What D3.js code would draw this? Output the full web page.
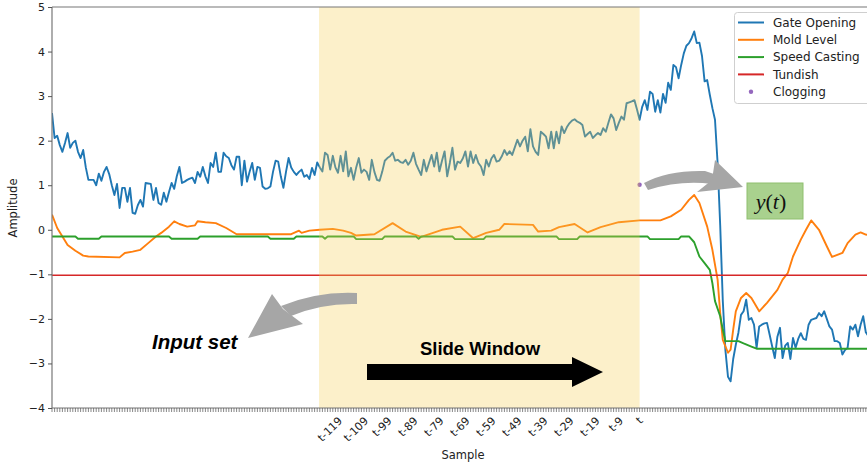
<!DOCTYPE html>
<html><head><meta charset="utf-8">
<script src="https://cdn.jsdelivr.net/npm/d3@7"></script>
<style>body{margin:0;background:#fff}svg{display:block}</style>
</head><body>
<script>
// ---------- data ----------
const seriesNames = ["Gate Opening", "Mold Level", "Speed Casting", "Tundish", "Clogging"];
const seriesColors = ["#1f77b4", "#ff7f0e", "#2ca02c", "#d62728", "#9467bd"];

// gate opening, one value per sample (sample 0 .. 314)
const gateValues = [
  2.62, 2.06, 2.11, 1.9, 1.75, 1.95, 2.17, 1.84, 1.95, 2.0,
  1.75, 1.61, 1.79, 1.4, 1.12, 1.12, 1.12, 1.0, 1.26, 1.1,
  1.3, 1.41, 1.25, 1.0, 0.78, 1.03, 0.49, 0.94, 0.94, 0.63,
  0.94, 0.38, 0.36, 0.55, 0.67, 0.52, 1.05, 1.04, 1.03, 0.67,
  0.94, 0.6, 0.56, 0.83, 0.63, 0.85, 1.05, 0.92, 1.2, 1.41,
  1.05, 1.08, 1.12, 1.15, 1.17, 1.05, 1.3, 1.19, 1.41, 1.2,
  1.05, 1.5, 1.41, 1.73, 1.3, 1.3, 1.73, 1.65, 1.61, 1.45,
  1.35, 1.64, 1.64, 1.0, 1.55, 1.08, 1.3, 1.5, 1.12, 1.41,
  1.39, 0.97, 0.92, 0.93, 0.97, 1.3, 1.55, 1.53, 1.2, 0.94,
  1.3, 1.61, 1.4, 1.3, 1.23, 1.3, 1.35, 1.19, 1.23, 1.14,
  1.39, 1.23, 1.51, 1.4, 1.31, 1.73, 1.68, 1.35, 1.66, 1.4,
  1.28, 1.66, 1.31, 1.76, 1.2, 1.39, 1.12, 1.4, 1.61, 1.28,
  1.35, 1.3, 1.12, 1.57, 1.3, 1.12, 1.1, 1.3, 1.55, 1.61,
  1.65, 1.73, 1.55, 1.57, 1.52, 1.5, 1.57, 1.46, 1.55, 1.73,
  1.48, 1.35, 1.23, 1.57, 1.31, 1.5, 1.68, 1.42, 1.73, 1.31,
  1.55, 1.76, 1.2, 1.5, 1.84, 1.35, 1.53, 1.5, 1.6, 1.76,
  1.42, 1.76, 1.5, 1.68, 1.5, 1.42, 1.23, 1.57, 1.42, 1.6,
  1.68, 1.53, 1.55, 1.65, 1.79, 1.68, 1.76, 1.68, 1.85, 2.02,
  1.87, 2.0, 2.09, 1.76, 2.26, 1.87, 1.75, 1.68, 2.2, 2.15,
  2.09, 1.83, 2.2, 1.83, 2.2, 1.94, 2.32, 2.17, 2.3, 2.39,
  2.45, 2.48, 2.43, 2.4, 2.35, 2.09, 2.15, 2.2, 2.06, 2.12,
  2.17, 2.13, 2.28, 2.2, 2.4, 2.59, 2.5, 2.24, 2.4, 2.54,
  2.47, 2.84, 2.86, 2.88, 2.91, 2.7, 2.47, 2.76, 2.91, 2.69,
  3.1, 3.05, 2.65, 2.91, 2.63, 3.05, 2.85, 3.3, 3.14, 3.7,
  3.65, 3.4, 3.7, 3.96, 4.13, 4.19, 4.3, 4.45, 4.19, 4.2,
  3.9, 3.33, 3.36, 3.03, 2.73, 2.47, 1.5, 0.1, -1.6, -2.7,
  -3.3, -3.4, -2.9, -2.58, -2.31, -1.91, -1.83, -1.57, -2.02, -1.98,
  -2.13, -2.65, -2.17, -2.13, -2.1, -2.09, -2.35, -2.62, -2.88, -2.4,
  -2.2, -2.88, -2.6, -2.54, -2.9, -2.43, -2.65, -2.45, -2.32, -2.45,
  -2.47, -2.13, -2.02, -2.0, -1.98, -1.87, -1.94, -1.83, -2.0, -2.17,
  -2.24, -2.5, -2.5, -2.54, -2.8, -2.7, -2.65, -2.17, -2.24, -2.13,
  -2.39, -2.13, -1.94, -2.3, -2.39
];

const moldSamples = [0, 2, 4, 6, 9, 12, 14, 26, 28, 31, 34, 37, 40, 42, 45, 47, 49, 52, 55, 56,
  59, 63, 67, 71, 92, 95, 96, 99, 103, 108, 112, 115, 117, 124, 131, 136, 142, 150, 157, 162,
  167, 172, 174, 185, 187, 192, 195, 201, 206, 211, 218, 226, 234, 238, 242, 245, 247, 249, 252, 254,
  256, 257, 258, 260, 261, 262, 263, 265, 267, 269, 272, 275, 279, 281, 283, 285, 288, 290, 292, 295,
  298, 300, 304, 306, 309, 311, 313, 316];
const moldValues = [0.34, 0.04, -0.15, -0.34, -0.47, -0.58, -0.6, -0.62, -0.52, -0.49, -0.45, -0.3, -0.15, -0.07, 0.07, 0.19, 0.13, 0.07, 0.1, 0.19,
  0.17, 0.15, 0.04, -0.1, -0.1, -0.02, -0.07, -0.02, 0, 0.02, -0.02, -0.07, -0.13, -0.1, 0.15, -0.04, -0.16, 0, 0.07, -0.19,
  -0.07, 0, 0.13, 0.11, -0.04, -0.02, 0.06, 0.13, -0.06, 0.06, 0.17, 0.21, 0.21, 0.3, 0.45, 0.67, 0.78, 0.6, 0.07, -0.45,
  -1.12, -1.87, -2.47, -2.76, -2.69, -2.24, -1.83, -1.53, -1.42, -1.53, -1.83, -1.64, -1.35, -1.12, -0.97, -0.6, -0.22, 0, 0.21, 0,
  -0.37, -0.61, -0.52, -0.3, -0.11, -0.06, -0.11, -0.13];

const speedSamples = [0, 9, 10, 18, 19, 45, 46, 56, 57, 83, 84, 93, 94, 104, 105, 106, 116, 117, 127, 128,
  140, 141, 142, 154, 155, 166, 167, 194, 195, 202, 203, 229, 230, 241, 242, 245, 247, 249, 251, 253,
  254, 255, 257, 258, 259, 264, 266, 269, 271, 316];
const speedValues = [-0.15, -0.15, -0.2, -0.2, -0.15, -0.15, -0.2, -0.2, -0.15, -0.15, -0.2, -0.2, -0.15, -0.15, -0.2, -0.15, -0.15, -0.21, -0.21, -0.15,
  -0.15, -0.2, -0.15, -0.15, -0.21, -0.21, -0.15, -0.15, -0.21, -0.21, -0.15, -0.15, -0.21, -0.21, -0.15, -0.15, -0.28, -0.6, -0.75, -0.9,
  -1.2, -1.6, -1.94, -2.24, -2.5, -2.5, -2.55, -2.62, -2.67, -2.67];

const tundishSamples = [0, 316];
const tundishValues = [-1.02, -1.02];

const cloggingSamples = [226];
const cloggingValues = [1.01];

const windowStart = 102.7, windowEnd = 226;
const tickSamples = [107, 117, 127, 137, 147, 157, 167, 177, 187, 197, 207, 217, 226];
const tickLabels = ["t-119", "t-109", "t-99", "t-89", "t-79", "t-69", "t-59", "t-49", "t-39", "t-29", "t-19", "t-9", "t"];
const yTicks = [-4, -3, -2, -1, 0, 1, 2, 3, 4, 5];
const sampleCount = 316;

// ---------- layout ----------
const W = 867, H = 468;
const L = 52, T = 7, B = 408;
const x = d3.scaleLinear().domain([0, sampleCount]).range([L, L + sampleCount * 2.6]);
const y = d3.scaleLinear().domain([-4, 5]).range([B, T]);

const svg = d3.select("body").append("svg").attr("width", W).attr("height", H)
  .style("font-family", "'DejaVu Sans', sans-serif");

svg.append("defs").append("clipPath").attr("id", "clip")
  .append("rect").attr("x", L).attr("y", T).attr("width", x(sampleCount) - L).attr("height", B - T);

const plot = svg.append("g").attr("clip-path", "url(#clip)");
const line = d3.line().x(d => x(d[0])).y(d => y(d[1]));

const gatePts = gateValues.map((v, i) => [i, v]);
const moldPts = moldSamples.map((s, i) => [s, moldValues[i]]);
const speedPts = speedSamples.map((s, i) => [s, speedValues[i]]);
const tundPts = tundishSamples.map((s, i) => [s, tundishValues[i]]);

plot.append("path").attr("d", line(gatePts)).attr("fill", "none").attr("stroke", seriesColors[0]).attr("stroke-width", 1.9).attr("stroke-linejoin", "round");
plot.append("path").attr("d", line(moldPts)).attr("fill", "none").attr("stroke", seriesColors[1]).attr("stroke-width", 1.9).attr("stroke-linejoin", "round");
plot.append("path").attr("d", line(speedPts)).attr("fill", "none").attr("stroke", seriesColors[2]).attr("stroke-width", 1.9).attr("stroke-linejoin", "round");
plot.append("path").attr("d", line(tundPts)).attr("fill", "none").attr("stroke", seriesColors[3]).attr("stroke-width", 1.5);
plot.selectAll("circle.clog").data(cloggingSamples).enter().append("circle")
  .attr("cx", d => x(d)).attr("cy", (d, i) => y(cloggingValues[i])).attr("r", 2.2).attr("fill", seriesColors[4]);

// slide window span (drawn over lines)
plot.append("rect").attr("x", x(windowStart)).attr("y", T).attr("width", x(windowEnd) - x(windowStart)).attr("height", B - T)
  .attr("fill", "#f5cc50").attr("opacity", 0.3);

// spines
svg.append("line").attr("x1", L).attr("x2", W + 5).attr("y1", T).attr("y2", T).attr("stroke", "#777").attr("stroke-width", 1.2);
svg.append("line").attr("x1", L).attr("x2", W + 5).attr("y1", B).attr("y2", B).attr("stroke", "#777").attr("stroke-width", 1.2);
svg.append("line").attr("x1", L).attr("x2", L).attr("y1", T).attr("y2", B).attr("stroke", "#777").attr("stroke-width", 1.2);

// y axis
const yAxis = d3.axisLeft(y).tickValues(yTicks).tickSize(4).tickPadding(3).tickFormat(d => d < 0 ? "\u2212" + Math.abs(d) : d);
const yg = svg.append("g").attr("transform", `translate(${L},0)`).call(yAxis);
yg.select(".domain").remove();
yg.selectAll("line").attr("stroke", "#555");
yg.selectAll("text").attr("font-size", 11).attr("fill", "#222").attr("font-family", "'DejaVu Sans', sans-serif");

// x minor ticks (every sample)
const minor = d3.range(0, sampleCount + 1);
svg.append("g").selectAll("line").data(minor).enter().append("line")
  .attr("x1", d => x(d)).attr("x2", d => x(d)).attr("y1", B).attr("y2", B + 4)
  .attr("stroke", "#555").attr("stroke-width", 0.7);

// x tick labels rotated 45
const xl = svg.append("g");
tickSamples.forEach((s, i) => {
  const t = xl.append("text").text(tickLabels[i]).attr("font-size", 11).attr("fill", "#222")
    .attr("text-anchor", "middle").attr("dominant-baseline", "central");
  const w = t.node().getComputedTextLength();
  const h = 8.5;
  const half = 0.7071 * (w + h) / 2;
  const cx = x(s), cy = 416 + half;
  t.attr("x", cx).attr("y", cy).attr("transform", `rotate(-45 ${cx} ${cy})`);
});

// axis titles
svg.append("text").text("Sample").attr("x", 463).attr("y", 459).attr("text-anchor", "middle")
  .attr("font-size", 11.5).attr("fill", "#222");
svg.append("text").text("Amplitude").attr("transform", "translate(17,208) rotate(-90)").attr("text-anchor", "middle")
  .attr("font-size", 11.5).attr("fill", "#222");

// legend
const lg = svg.append("g");
lg.append("rect").attr("x", 734.5).attr("y", 12.5).attr("width", 140).attr("height", 91).attr("rx", 3)
  .attr("fill", "#fff").attr("fill-opacity", 0.85).attr("stroke", "#cfcfcf");
seriesNames.forEach((n, i) => {
  const yy = 22.5 + i * 17.3;
  if (i < 4) {
    lg.append("line").attr("x1", 738).attr("x2", 764).attr("y1", yy).attr("y2", yy)
      .attr("stroke", seriesColors[i]).attr("stroke-width", 2);
  } else {
    lg.append("circle").attr("cx", 751).attr("cy", yy).attr("r", 2.2).attr("fill", seriesColors[i]);
  }
  lg.append("text").text(n).attr("x", 773).attr("y", yy + 4.2).attr("font-size", 12).attr("fill", "#222");
});

// annotations
const ann = svg.append("g");
// Slide Window arrow
ann.append("path").attr("d", "M367,364 L572,364 L572,357 L603,372 L572,387 L572,380 L367,380 Z").attr("fill", "#000");
ann.append("text").text("Slide Window").attr("x", 480).attr("y", 355).attr("text-anchor", "middle")
  .attr("font-family", "'Liberation Sans', Arial, sans-serif").attr("font-weight", "bold").attr("font-size", 18.5).attr("fill", "#000");
// Input set
ann.append("text").text("Input set").attr("x", 152).attr("y", 349)
  .attr("font-family", "'Liberation Sans', Arial, sans-serif").attr("font-weight", "bold").attr("font-style", "italic")
  .attr("font-size", 20.5).attr("fill", "#000");
// gray curved arrow to input set
ann.append("path").attr("d", "M357,293 Q318,291 281,306 L291,316 Q322,303 357,304 Z").attr("fill", "#a6a6a6");
ann.append("path").attr("d", "M248,338 L272,294 L283,309 L303,324 Z").attr("fill", "#a6a6a6");
// gray curved arrow to y(t)
ann.append("path").attr("d", "M644,183 Q668,170 705,171 L720,176 L712,184 Q680,180 648,190 Z").attr("fill", "#a6a6a6");
ann.append("path").attr("d", "M743,187 L715,160 L712,180 L697,192 Z").attr("fill", "#a6a6a6");
// y(t) box
ann.append("rect").attr("x", 747).attr("y", 183).attr("width", 56).attr("height", 36)
  .attr("fill", "#a9d18e").attr("stroke", "#8fbf6f").attr("stroke-width", 1);
const yt = ann.append("text").attr("x", 771).attr("y", 209).attr("text-anchor", "middle")
  .attr("font-family", "'Liberation Serif', 'DejaVu Serif', serif").attr("font-size", 22).attr("fill", "#111");
yt.append("tspan").text("y").attr("font-style", "italic");
yt.append("tspan").text("(");
yt.append("tspan").text("t").attr("font-style", "italic");
yt.append("tspan").text(")");
</script>
</body></html>
